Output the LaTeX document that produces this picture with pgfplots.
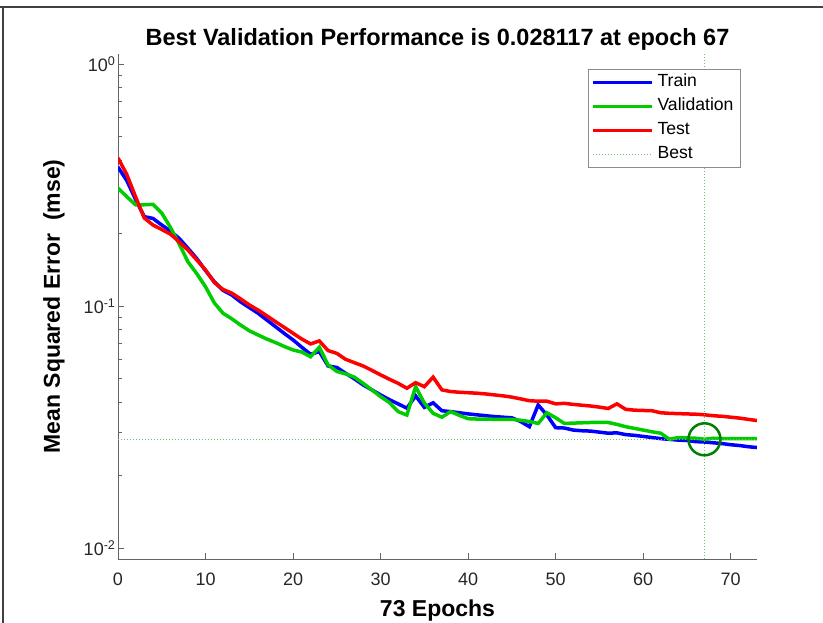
\documentclass[border=0pt]{standalone}
\usepackage{fontspec}
\setmainfont{Liberation Sans}
\usepackage{pgfplots}
\pgfplotsset{compat=1.18}
\usepackage{pgfplotstable}

\definecolor{mblue}{rgb}{0,0,1}
\definecolor{mgreen}{rgb}{0,0.8,0}
\definecolor{mred}{rgb}{1,0,0}
\definecolor{bestgreen}{rgb}{0,0.5,0}
\definecolor{bestdot}{RGB}{110,190,110}
\definecolor{axgray}{RGB}{100,100,100}
\definecolor{txtgray}{RGB}{38,38,38}

\pgfplotstableread{
ep tr va te
0 0.375 0.307 0.409
1 0.330 0.283 0.350
2 0.276 0.262 0.283
3 0.234 0.262 0.231
4 0.230 0.263 0.216
5 0.216 0.242 0.207
6 0.204 0.211 0.198
7 0.190 0.180 0.184
8 0.173 0.152 0.170
9 0.157 0.136 0.155
10 0.140 0.120 0.141
11 0.126 0.103 0.125
12 0.116 0.0933 0.117
13 0.111 0.0885 0.113
14 0.104 0.0834 0.107
15 0.0985 0.0790 0.101
16 0.0933 0.0759 0.0962
17 0.0875 0.0730 0.0910
18 0.0821 0.0706 0.0861
19 0.0770 0.0680 0.0815
20 0.0724 0.0658 0.0771
21 0.0675 0.0645 0.0730
22 0.0631 0.0617 0.0697
23 0.0648 0.0675 0.0717
24 0.0565 0.0571 0.0654
25 0.0557 0.0536 0.0637
26 0.0527 0.0524 0.0602
27 0.0500 0.0508 0.0583
28 0.0472 0.0479 0.0565
29 0.0450 0.0450 0.0542
30 0.0429 0.0422 0.0519
31 0.0410 0.0399 0.0498
32 0.0394 0.0366 0.0479
33 0.0378 0.0354 0.0457
34 0.0425 0.0464 0.0482
35 0.0381 0.0397 0.0464
36 0.0398 0.0360 0.0508
37 0.0369 0.0347 0.0450
38 0.0366 0.0366 0.0443
39 0.0362 0.0353 0.0440
40 0.0358 0.0342 0.0438
41 0.0355 0.0341 0.0436
42 0.0352 0.0341 0.0433
43 0.0349 0.0340 0.0429
44 0.0347 0.0340 0.0425
45 0.0345 0.0340 0.0420
46 0.0333 0.0337 0.0413
47 0.0317 0.0333 0.0406
48 0.0390 0.0327 0.0404
49 0.0354 0.0362 0.0404
50 0.0314 0.0345 0.0394
51 0.0313 0.0327 0.0396
52 0.0307 0.0328 0.0392
53 0.0305 0.0329 0.0389
54 0.0304 0.0330 0.0386
55 0.0301 0.0330 0.0382
56 0.0298 0.0330 0.0377
57 0.0299 0.0324 0.0394
58 0.0294 0.0317 0.0374
59 0.0292 0.0312 0.0371
60 0.0289 0.0307 0.0370
61 0.0286 0.0302 0.0369
62 0.0283 0.0298 0.0362
63 0.0281 0.0281 0.0360
64 0.0279 0.0286 0.0359
65 0.0278 0.0285 0.0358
66 0.0275 0.0284 0.0357
67 0.0274 0.028117 0.0355
68 0.0272 0.0284 0.0352
69 0.0270 0.0283 0.0350
70 0.0267 0.0283 0.0347
71 0.0265 0.0283 0.0344
72 0.0262 0.0283 0.0340
73 0.0260 0.0283 0.0336
}\perf

\begin{document}
\begin{tikzpicture}[x=1pt,y=1pt]
\path[use as bounding box] (0,0) rectangle (823,623);
\draw[line width=1.3pt, black!75] (0,616) -- (823,616);
\draw[line width=1.3pt, black!75] (3,0) -- (3,616);
\begin{axis}[
  at={(118pt,64pt)}, anchor=south west,
  scale only axis, width=639pt, height=505pt,
  ymode=log, xmin=0, xmax=73, ymin=0.009, ymax=1.1,
  axis lines=left,
  axis line style={-, axgray, line width=0.9pt},
  tick align=inside,
  major tick length=6pt, minor tick length=3.5pt,
  every tick/.style={axgray, line width=0.8pt},
  xtick={0,10,...,70},
  ytick={0.01,0.1,1},
  minor ytick={0.02,0.03,0.04,0.05,0.06,0.07,0.08,0.09,0.2,0.3,0.4,0.5,0.6,0.7,0.8,0.9},
  yticklabels={10\textsuperscript{-2},10\textsuperscript{-1},10\textsuperscript{0}},
  /pgf/number format/assume math mode=true,
  ticklabel style={font=\fontsize{18}{18}\selectfont, text=txtgray},
  xticklabel style={yshift=-10pt},
  yticklabel style={xshift=1pt},
  title={Best Validation Performance is 0.028117 at epoch 67},
  title style={font=\bfseries\fontsize{23.5}{23.5}\selectfont, at={(axis description cs:0.5,1.0059)}, anchor=base},
  xlabel={73 Epochs},
  xlabel style={font=\bfseries\fontsize{23}{23}\selectfont, at={(axis description cs:0.5,-0.1129)}, anchor=base},
  ylabel={Mean Squared Error\ \ (mse)},
  ylabel style={font=\bfseries\fontsize{23}{23}\selectfont, at={(axis description cs:-0.1002,0.5)}, anchor=center},
  legend cell align=left,
  legend image code/.code={\draw[#1] (0pt,0pt) -- (59pt,0pt);},
  legend style={at={(axis description cs:1,1)}, anchor=north east, xshift=-16pt, yshift=-15pt,
    draw=black!45, line width=0.9pt, font=\fontsize{17.6}{17.6}\selectfont,
    nodes={inner ysep=2pt, inner xsep=4pt, text height=12pt, text depth=4pt}, row sep=4pt, inner sep=3pt},
]
\addplot[mblue, line width=3.5pt] table[x=ep, y=tr] {\perf};
\addlegendentry{Train}
\addplot[mgreen, line width=3.5pt] table[x=ep, y=va] {\perf};
\addlegendentry{Validation}
\addplot[mred, line width=3.5pt] table[x=ep, y=te] {\perf};
\addlegendentry{Test}
\addplot[bestdot, line width=1pt, dash pattern=on 1pt off 2pt] coordinates {(0,0.028117) (73,0.028117)};
\addlegendentry{Best}
\addplot[bestdot, line width=1pt, dash pattern=on 1pt off 2pt, forget plot] coordinates {(67,0.009) (67,1.1)};
\addplot[only marks, mark=o, mark size=16pt, mark options={bestgreen, line width=2.5pt}, forget plot] coordinates {(67,0.028117)};
\end{axis}
\end{tikzpicture}
\end{document}
